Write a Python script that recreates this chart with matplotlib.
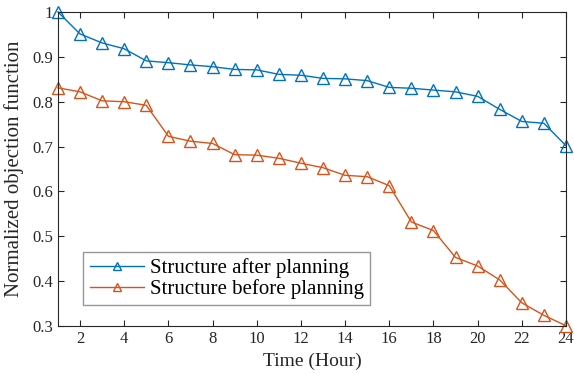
import matplotlib.pyplot as plt
import numpy as np

plt.rcParams['font.family'] = ['Liberation Serif', 'DejaVu Serif']

hours = list(range(1, 25))
after = [1.0, 0.951, 0.931, 0.918, 0.891, 0.887, 0.882, 0.878, 0.872, 0.871,
         0.861, 0.859, 0.852, 0.851, 0.847, 0.832, 0.830, 0.826, 0.822, 0.812,
         0.783, 0.756, 0.752, 0.702]
before = [0.831, 0.822, 0.802, 0.800, 0.792, 0.723, 0.712, 0.707, 0.682, 0.681,
          0.674, 0.663, 0.653, 0.636, 0.633, 0.613, 0.532, 0.513, 0.453, 0.434,
          0.403, 0.352, 0.324, 0.301]
labels = ['Structure after planning', 'Structure before planning']

fig = plt.figure(figsize=(5.74, 3.74), dpi=100)
ax = fig.add_axes([0.101, 0.128, 0.885, 0.840])

ax.plot(hours, after, color='#0072BD', marker='^', markersize=8, markerfacecolor='none',
        linewidth=1, label=labels[0], clip_on=False)
ax.plot(hours, before, color='#D95319', marker='^', markersize=8, markerfacecolor='none',
        linewidth=1, label=labels[1], clip_on=False)

ax.set_xlim(1, 24)
ax.set_ylim(0.3, 1)
ax.set_xticks(np.arange(2, 25, 2))
ax.set_yticks([0.3, 0.4, 0.5, 0.6, 0.7, 0.8, 0.9, 1.0])
ax.set_yticklabels(['0.3', '0.4', '0.5', '0.6', '0.7', '0.8', '0.9', '1'])
ax.tick_params(direction='in', top=True, right=True, labelsize=12, colors='#262626', length=4)
for s in ax.spines.values():
    s.set_color('#262626')
    s.set_linewidth(0.8)

ax.set_xlabel('Time (Hour)', fontsize=14, color='#262626')
ax.set_ylabel('Normalized objection function', fontsize=15, color='#262626', labelpad=6)

leg = ax.legend(loc='lower left', bbox_to_anchor=(0.05, 0.066), fontsize=15, fancybox=False,
                edgecolor='#7f7f7f', handlelength=2.6, borderpad=0.3, labelspacing=0.05,
                handletextpad=0.3, borderaxespad=0, markerscale=0.7)
leg.get_frame().set_linewidth(1.0)

fig.savefig('out.png', dpi=100)
